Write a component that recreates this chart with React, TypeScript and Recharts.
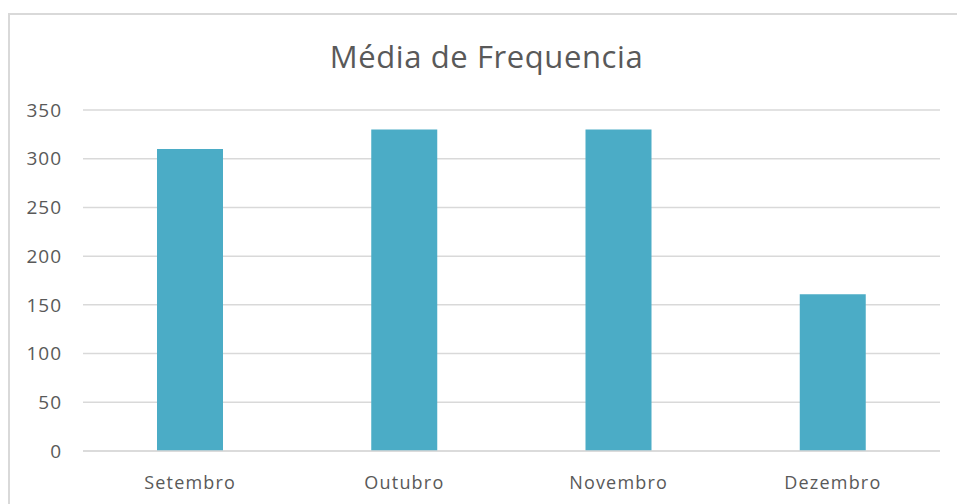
import { Bar, BarChart, CartesianGrid, XAxis, YAxis } from "recharts";

const months = ["Setembro", "Outubro", "Novembro", "Dezembro"];
const frequencia = [310, 330, 330, 161];
const yTicks = [0, 50, 100, 150, 200, 250, 300, 350];

const data = months.map((month, i) => ({ month, frequencia: frequencia[i] }));

const font = "'Open Sans', sans-serif";

export default function App() {
  return (
    <div
      style={{
        position: "absolute",
        left: 8,
        top: 13,
        width: 960,
        height: 500,
        border: "2px solid #d9d9d9",
        background: "#fff",
        fontFamily: font,
      }}
    >
      <div
        style={{
          position: "absolute",
          top: 20,
          left: 3,
          width: 947,
          textAlign: "center",
          fontSize: 31,
          letterSpacing: 0.6,
          color: "#595959",
        }}
      >
        Média de Frequencia
      </div>
      <BarChart
        width={947}
        height={489}
        data={data}
        margin={{ top: 95, right: 17, left: 13, bottom: 23 }}
      >
        <CartesianGrid vertical={false} stroke="#d9d9d9" strokeWidth={1.5} />
        <XAxis
          dataKey="month"
          axisLine={{ stroke: "#d9d9d9", strokeWidth: 1.5 }}
          tickLine={false}
          tickSize={0}
          tickMargin={25}
          height={30}
          tick={{ fill: "#595959", fontSize: 18, fontFamily: font, letterSpacing: 1.2 }}
        />
        <YAxis
          domain={[0, 350]}
          ticks={yTicks}
          axisLine={false}
          tickLine={false}
          tickSize={0}
          tickMargin={21}
          width={60}
          tick={{ fill: "#595959", fontSize: 19, fontFamily: font, letterSpacing: 1 }}
        />
        <Bar dataKey="frequencia" fill="#4bacc6" barSize={66} isAnimationActive={false} />
      </BarChart>
    </div>
  );
}
